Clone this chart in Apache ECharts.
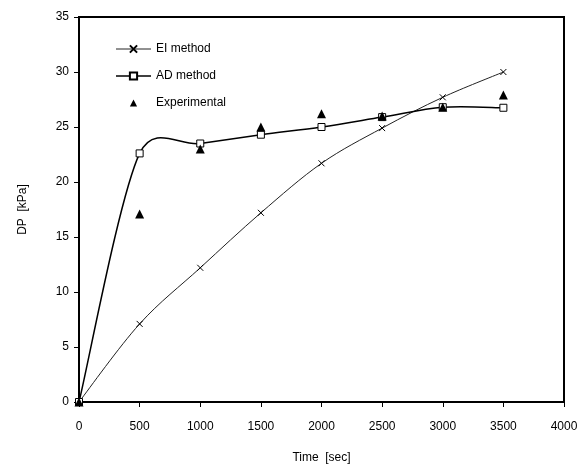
<!DOCTYPE html>
<html>
<head>
<meta charset="utf-8">
<script src="https://cdn.jsdelivr.net/npm/echarts@6/dist/echarts.min.js"></script>
<style>
  html, body { margin: 0; padding: 0; background: #fff; }
  #chart { width: 581px; height: 466px; }
</style>
</head>
<body>
<div id="chart"></div>
<script>
// tiempos (s) y caida de presion (kPa)
const times = [0, 500, 1000, 1500, 2000, 2500, 3000, 3500]
const eiMethod = [0, 7.1, 12.2, 17.2, 21.7, 24.9, 27.7, 30.0]
const adMethod = [0, 22.6, 23.5, 24.3, 25.0, 25.9, 26.8, 26.75]
const expTimes = [0, 500, 1000, 1500, 2000, 2500, 3000, 3500]
const experimental = [0, 17.1, 23.0, 25.0, 26.2, 26.0, 26.8, 27.9]

const seriesNames = ['EI method', 'AD method', 'Experimental']
const xLabel = 'Time  [sec]'
const yLabel = 'DP  [kPa]'

const font = '"Liberation Sans", Arial, sans-serif'
const pair = (xs, ys) => xs.map((x, i) => [x, ys[i]])

// curva suavizada tipo Excel (catmull-rom), un tramo por punto
function splineSeries(name, xs, ys, lineStyle) {
  return {
    name: name,
    type: 'custom',
    data: pair(xs, ys),
    silent: true,
    z: 1,
    renderItem: function (params, api) {
      const i = params.dataIndex
      const n = xs.length
      if (i >= n - 1) return null
      const pt = k => api.coord([xs[Math.max(0, Math.min(n - 1, k))], ys[Math.max(0, Math.min(n - 1, k))]])
      const p0 = pt(i - 1), p1 = pt(i), p2 = pt(i + 1), p3 = pt(i + 2)
      const seg = Math.hypot(p2[0] - p1[0], p2[1] - p1[1])
      const tangent = (a, b) => {
        let dx = (b[0] - a[0]) / 6, dy = (b[1] - a[1]) / 6
        const len = Math.hypot(dx, dy)
        const lim = 0.55 * seg
        if (len > lim && len > 0) { dx *= lim / len; dy *= lim / len }
        return [dx, dy]
      }
      const t1 = tangent(p0, p2)
      const t2 = tangent(p1, p3)
      return {
        type: 'bezierCurve',
        shape: {
          x1: p1[0], y1: p1[1],
          cpx1: p1[0] + t1[0], cpy1: p1[1] + t1[1],
          cpx2: p2[0] - t2[0], cpy2: p2[1] - t2[1],
          x2: p2[0], y2: p2[1]
        },
        style: { fill: null, stroke: lineStyle.color, lineWidth: lineStyle.width }
      }
    }
  }
}

const chart = echarts.init(document.getElementById('chart'))
chart.setOption({
  animation: false,
  backgroundColor: '#fff',
  textStyle: { fontFamily: font, color: '#000' },
  grid: {
    left: 79, right: 17, top: 17, bottom: 64,
    outerBoundsMode: 'none',
    show: true, borderColor: '#000', borderWidth: 2
  },
  legend: {
    orient: 'vertical',
    left: 110, top: 38,
    itemWidth: 35, itemHeight: 9, itemGap: 15,
    data: [
      { name: seriesNames[0], lineStyle: { opacity: 1, color: '#222', width: 1 } },
      { name: seriesNames[1], lineStyle: { opacity: 1, color: '#000', width: 1.5 } },
      { name: seriesNames[2] }
    ],
    textStyle: { fontFamily: font, fontSize: 12, color: '#000' }
  },
  xAxis: {
    type: 'value',
    min: 0, max: 4000, interval: 500,
    name: xLabel,
    nameLocation: 'middle',
    nameGap: 50,
    nameTextStyle: { fontSize: 12, color: '#000' },
    axisLine: { show: true, lineStyle: { color: '#000', width: 2 } },
    axisTick: { show: true, length: 5, lineStyle: { color: '#000', width: 1 } },
    axisLabel: { fontSize: 12, color: '#000', margin: 19, formatter: v => String(v) },
    splitLine: { show: false }
  },
  yAxis: {
    type: 'value',
    min: 0, max: 35, interval: 5,
    name: yLabel,
    nameLocation: 'middle',
    nameGap: 50,
    nameRotate: 90,
    nameTextStyle: { fontSize: 12, color: '#000' },
    axisLine: { show: true, lineStyle: { color: '#000', width: 2 } },
    axisTick: { show: true, length: 5, lineStyle: { color: '#000', width: 1 } },
    axisLabel: { fontSize: 12, color: '#000', margin: 10, formatter: v => String(v) },
    splitLine: { show: false }
  },
  series: [
    splineSeries('EI curve', times, eiMethod, { color: '#222', width: 1 }),
    splineSeries('AD curve', times, adMethod, { color: '#000', width: 1.5 }),
    {
      name: seriesNames[0],
      type: 'line',
      data: pair(times, eiMethod),
      symbol: 'path://M0,0L10,10M10,0L0,10',
      symbolSize: 6,
      itemStyle: { color: '#000', borderColor: '#000', borderWidth: 1 },
      lineStyle: { opacity: 0 },
      z: 2
    },
    {
      name: seriesNames[1],
      type: 'line',
      data: pair(times, adMethod),
      symbol: 'rect',
      symbolSize: 7,
      itemStyle: { color: '#fff', borderColor: '#000', borderWidth: 1 },
      lineStyle: { opacity: 0 },
      z: 3
    },
    {
      name: seriesNames[2],
      type: 'line',
      data: pair(expTimes, experimental),
      symbol: 'triangle',
      symbolSize: 9,
      itemStyle: { color: '#000' },
      lineStyle: { opacity: 0 },
      z: 4
    }
  ]
})
</script>
</body>
</html>
